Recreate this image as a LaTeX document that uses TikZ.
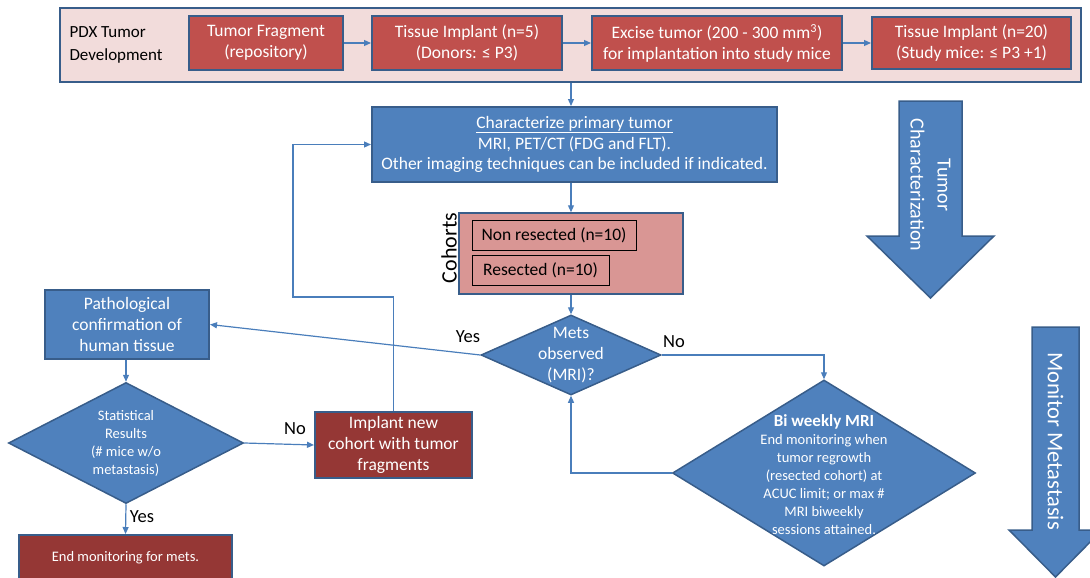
\documentclass[tikz,border=0pt]{standalone}
\usepackage{fontspec}
\setmainfont{Carlito}
\usepackage{xcolor}
\usepackage{tikz}
\usetikzlibrary{shapes.geometric, arrows.meta}

\definecolor{boxblue}{HTML}{4F81BD}
\definecolor{edgeblue}{HTML}{385D8A}
\definecolor{lineblue}{HTML}{4A7EBB}
\definecolor{tumorred}{HTML}{C0504D}
\definecolor{darkred}{HTML}{953735}
\definecolor{cohortpink}{HTML}{D99694}
\definecolor{pdxpink}{HTML}{F2DCDB}

\tikzset{
  box/.style={draw=edgeblue, line width=2pt, minimum height=54pt, inner sep=0pt, text=white, align=center, font=\fontsize{17.5}{20.8}\selectfont},
  redbox/.style={box, fill=tumorred},
  bluebox/.style={box, fill=boxblue},
  darkbox/.style={box, fill=darkred},
  decision/.style={diamond, draw=edgeblue, line width=1.5pt, fill=boxblue, inner sep=0pt},
  smalltxt/.style={text=white, align=center, font=\fontsize{14.5}{18}\selectfont},
  bigtxt/.style={text=white, align=center, font=\fontsize{17.5}{21}\selectfont},
  cohortbox/.style={draw=black, line width=1pt, fill=cohortpink, minimum height=30pt, font=\fontsize{17.5}{20}\selectfont},
  flow/.style={draw=lineblue, line width=1.2pt, -{Triangle[length=7pt,width=6pt]}},
  lbl/.style={font=\fontsize{18.5}{20}\selectfont},
  bigarrow/.style={draw=edgeblue, line width=1.5pt, fill=boxblue},
}

\begin{document}
\begin{tikzpicture}[x=1pt, y=-1pt]
    \useasboundingbox (0,0) rectangle (1090,578);

    \node[draw=edgeblue, line width=2pt, fill=pdxpink, minimum width=1021pt, minimum height=74pt, inner sep=0pt] (pdx) at (570.5,45) {};
    \node[anchor=west, align=left, font=\fontsize{17}{23}\selectfont] (pdxlbl) at (66,45) {PDX Tumor\\Development};

    \node[redbox, minimum width=154pt] (frag) at (266,43) {Tumor Fragment\\(repository)};
    \node[redbox, minimum width=190pt] (donor) at (467,43) {Tissue Implant (n=5)\\(Donors: ≤ P3)};
    \node[redbox, minimum width=250pt] (excise) at (717,43) {Excise tumor (200 - 300 mm\textsuperscript{3})\\for implantation into study mice};
    \node[redbox, minimum width=199pt, minimum height=52pt] (study) at (971.5,43) {Tissue Implant (n=20)\\(Study mice: ≤ P3 +1)};

    \node[bluebox, minimum width=405pt, minimum height=75pt] (char) at (574.5,144.5) {\underline{Characterize primary tumor}\\MRI, PET/CT (FDG and FLT).\\Other imaging techniques can be included if indicated.};

    \node[draw=edgeblue, line width=1.5pt, fill=cohortpink, minimum width=224pt, minimum height=81pt, inner sep=0pt] (cohort) at (571,253.5) {};
    \node[cohortbox, minimum width=164pt] (nonres) at (554,235) {Non resected (n=10)};
    \node[cohortbox, minimum width=137pt] (resect) at (540.5,270) {Resected (n=10)};
    \node[rotate=90, font=\fontsize{22}{26}\selectfont] (cohortlbl) at (449,248) {Cohorts};

    \node[decision, minimum width=180pt, minimum height=80pt] (mets) at (571,355) {};
    \node[bigtxt] (metstxt) at (mets) {Mets\\observed\\(MRI)?};

    \node[bluebox, minimum width=164pt, minimum height=69pt] (patho) at (127,324.5) {Pathological\\confirmation of\\human tissue};

    \node[decision, minimum width=235pt, minimum height=121pt] (stat) at (126,443) {};
    \node[smalltxt] (stattxt) at (stat) {Statistical\\Results\\(\# mice w/o\\metastasis)};

    \node[darkbox, minimum width=157pt, minimum height=66pt] (implant) at (393.5,445) {Implant new\\cohort with tumor\\fragments};
    \node[darkbox, minimum width=213pt, minimum height=46pt, font=\fontsize{14.5}{17}\selectfont] (endmon) at (125.5,558) {End monitoring for mets.};

    \node[decision, minimum width=303pt, minimum height=186pt] (biw) at (824,473) {};
    \node[smalltxt] (biwtxt) at (824,475) {{\bfseries\fontsize{17}{18}\selectfont Bi weekly MRI}\\End monitoring when\\tumor regrowth\\(resected cohort) at\\ACUC limit; or max \#\\MRI biweekly\\sessions attained.};

    \coordinate (loop) at (293,297);

    \draw[flow] (frag) -- (donor);
    \draw[flow] (donor) -- (excise);
    \draw[flow] (excise) -- (study);
    \draw[flow] (pdx.south -| mets.north) -- (char.north -| mets.north);
    \draw[flow] (char.south -| cohort.north) -- (cohort.north);
    \draw[flow] (cohort.south) -- (mets.north);
    \draw[flow] (mets.west) -- (patho.east);
    \draw[flow] (mets.east) -| (biw.north);
    \draw[flow] (biw.west) -| (mets.south);
    \draw[flow] (patho.south -| stat.north) -- (stat.north);
    \draw[flow] (stat.south) -- (endmon.north);
    \draw[flow] (stat.east) -- (implant.west);
    \draw[flow] (implant.north) -- (implant.north |- loop) -- (loop) |- (char.west);

    \node[lbl] (yesmets) at (468,337) {Yes};
    \node[lbl] (nomets) at (674,342) {No};
    \node[lbl] (nostat) at (295,429) {No};
    \node[lbl] (yesstat) at (142,517) {Yes};

    \draw[bigarrow] (899,101) -- (962,101) -- (962,236) -- (994,236) -- (930.5,298) -- (867,236) -- (899,236) -- cycle;
    \node[rotate=-90, text=white, align=center, font=\fontsize{20}{27}\selectfont] (charlbl) at (930.5,185) {Tumor\\Characterization};

    \draw[bigarrow] (1032,327) -- (1079,327) -- (1079,530) -- (1102,530) -- (1055.5,577) -- (1009,530) -- (1032,530) -- cycle;
    \node[rotate=-90, text=white, font=\fontsize{22.5}{24}\selectfont] (metalbl) at (1055.5,441) {Monitor Metastasis};
\end{tikzpicture}
\end{document}
